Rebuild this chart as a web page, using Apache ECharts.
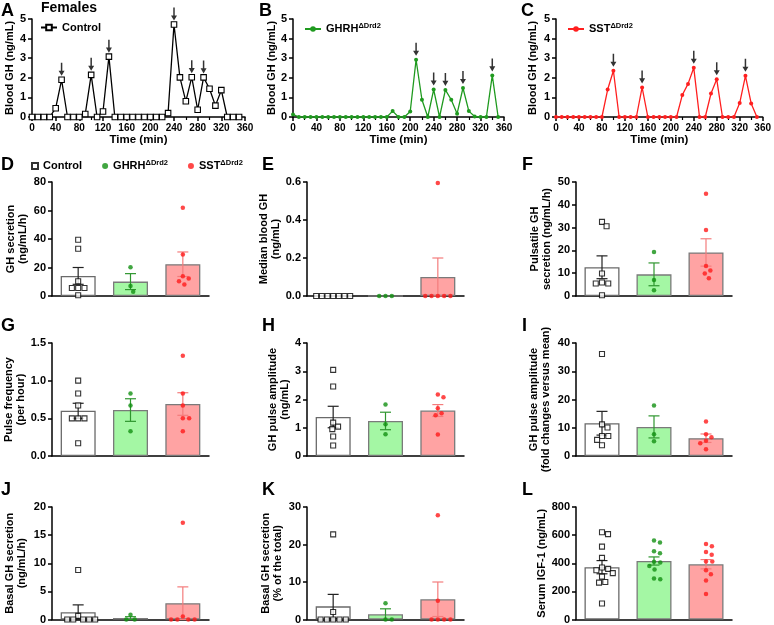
<!DOCTYPE html>
<html>
<head>
<meta charset="utf-8">
<title>Females - GH secretion</title>
<script src="https://cdn.jsdelivr.net/npm/echarts@6.0.0/dist/echarts.min.js"></script>
<style>
  html, body { margin: 0; padding: 0; background: #fff; }
  #chart { width: 774px; height: 625px; }
</style>
</head>
<body>
<div id="chart"></div>
<script>
// ---- A-C: blood GH sampled every 10 min ----
var times = [0, 10, 20, 30, 40, 50, 60, 70, 80, 90, 100, 110, 120, 130, 140, 150, 160, 170,
             180, 190, 200, 210, 220, 230, 240, 250, 260, 270, 280, 290, 300, 310, 320, 330, 340, 350];
var ctlGH  = [0, 0, 0, 0, 0.45, 1.9, 0, 0, 0, 0.15, 2.15, 0, 0.28, 3.08, 0, 0, 0, 0,
              0, 0, 0, 0, 0, 0.2, 4.72, 2.02, 0.8, 2.03, 0.37, 2.02, 1.44, 0.58, 1.37, 0, 0, 0];
var ghrhGH = [0.13, 0, 0, 0, 0, 0, 0, 0, 0, 0, 0, 0, 0, 0, 0, 0, 0, 0.3,
              0, 0, 0.28, 2.92, 0.88, 0, 1.4, 0, 1.38, 0.88, 0.17, 1.48, 0.3, 0.03, 0, 0, 2.12, 0];
var sstGH  = [0, 0, 0, 0, 0, 0, 0, 0, 0, 1.4, 2.36, 0, 0, 0, 0, 1.51, 0, 0,
              0, 0, 0, 0, 1.12, 1.69, 2.51, 0, 0, 1.2, 1.92, 0, 0, 0, 0.71, 2.1, 0.69, 0];
// pulses flagged with an arrow (min)
var ctlPeaks  = [50, 100, 130, 240, 270, 290];
var ghrhPeaks = [210, 240, 260, 290, 340];
var sstPeaks  = [100, 150, 240, 280, 330];

// ---- D-L: individual mice, bar = mean, whisker = SEM (order: Control, GHRH, SST) ----
var secCtl = [39.5, 33.2, 10.3, 5.6, 5.6, 5.6, 0.5];
var secGhrh = [20.2, 7.0, 3.0];
var secSst = [62.0, 29.2, 13.8, 12.2, 10.3, 8.0];
var secMean = [14.1, 10.1, 22.3];
var secSem = [5.9, 5.6, 8.6];

var medCtl = [0, 0, 0, 0, 0, 0, 0];
var medGhrh = [0, 0, 0];
var medSst = [0.595, 0, 0, 0, 0, 0];
var medMean = [0, 0, 0.1];
var medSem = [0, 0, 0.1];

var pulsCtl = [32.5, 30.6, 9.9, 5.9, 5.5, 5.5, 0.3];
var pulsGhrh = [19.3, 7.0, 2.5];
var pulsSst = [44.8, 29.0, 13.2, 11.2, 9.9, 7.8];
var pulsMean = [12.6, 9.5, 19.1];
var pulsSem = [5.0, 5.0, 6.0];

var freqCtl = [1.0, 0.83, 0.67, 0.5, 0.5, 0.5, 0.17];
var freqGhrh = [0.83, 0.67, 0.33];
var freqSst = [1.33, 0.83, 0.67, 0.5, 0.5, 0.33];
var freqMean = [0.6, 0.61, 0.69];
var freqSem = [0.1, 0.15, 0.15];

var ampCtl = [3.05, 2.46, 1.18, 1.04, 0.95, 0.69, 0.37];
var ampGhrh = [1.82, 1.12, 0.77];
var ampSst = [2.18, 2.08, 1.69, 1.51, 1.44, 0.76];
var ampMean = [1.38, 1.24, 1.61];
var ampSem = [0.38, 0.31, 0.21];

var foldCtl = [36.1, 11.2, 10.1, 7.1, 7.1, 5.7, 3.8];
var foldGhrh = [17.9, 7.7, 5.2];
var foldSst = [12.2, 7.7, 6.6, 5.4, 4.5, 2.4];
var foldMean = [11.6, 10.3, 6.3];
var foldSem = [4.2, 3.9, 1.5];

var basCtl = [8.8, 0.65, 0, 0, 0, 0, 0];
var basGhrh = [0.83, 0, 0];
var basSst = [17.2, 0.55, 0, 0, 0, 0];
var basMean = [1.3, 0.25, 2.9];
var basSem = [1.3, 0.25, 2.9];

var pctCtl = [22.7, 2.0, 0, 0, 0, 0, 0];
var pctGhrh = [4.35, 0, 0];
var pctSst = [27.8, 5.0, 0, 0, 0, 0];
var pctMean = [3.5, 1.4, 5.4];
var pctSem = [3.2, 1.45, 4.6];

var igfCtl = [620, 607, 518, 438, 370, 360, 350, 330, 305, 267, 262, 114];
var igfGhrh = [561, 547, 485, 471, 410, 405, 380, 355, 291, 286];
var igfSst = [537, 521, 480, 461, 412, 412, 350, 322, 277, 182];
var igfMean = [372, 416, 393];
var igfSem = [47, 29, 33];

// ---- styling ----
var FONT = '"Liberation Sans", Arial, Helvetica, sans-serif';
var groupNames = ['Control', 'GHRH', 'SST'];
var groupFill = ['#ffffff', '#a4f7a4', '#ffa3a3'];
var groupBorder = ['#6a6a6a', '#7a7a7a', '#7a7a7a'];
var errColor = ['#222222', '#2f962f', '#f47c7c'];
var dotColor = ['#000000', '#129012', '#ff1a1a'];

var rich = {
  n: { fontFamily: FONT, fontSize: 11, fontWeight: 'bold', color: '#000', lineHeight: 14 },
  s: { fontFamily: FONT, fontSize: 7.5, fontWeight: 'bold', color: '#000', verticalAlign: 'top', lineHeight: 9 }
};
var labelFor = { tsCtl: 'Control', tsGhrh: 'GHRH', tsSst: 'SST', Control: 'Control', GHRH: 'GHRH', SST: 'SST' };
function legendText(name) {
  var t = labelFor[name];
  return t === 'Control' ? '{n|Control}' : '{n|' + t + '}{s|ΔDrd2}';
}

var grids = [], xAxes = [], yAxes = [], series = [];

function axisLineStyle() { return { show: true, lineStyle: { color: '#000', width: 1.5 } }; }

// ---- time course panels ----
var tsPanels = [
  { id: 'tsCtl', data: ctlGH, peaks: ctlPeaks, color: '#000', symbol: 'rect', size: 5.5, hollow: true,
    grid: { left: 32, top: 19, width: 213, height: 98 }, nameGap: 17 },
  { id: 'tsGhrh', data: ghrhGH, peaks: ghrhPeaks, color: '#1f9a1f', symbol: 'circle', size: 4,
    grid: { left: 293, top: 19, width: 211, height: 98 }, nameGap: 16 },
  { id: 'tsSst', data: sstGH, peaks: sstPeaks, color: '#ff1f1f', symbol: 'circle', size: 4,
    grid: { left: 556, top: 19, width: 209, height: 98 }, nameGap: 18 }
];

tsPanels.forEach(function (p) {
  var gi = grids.length;
  grids.push(p.grid);
  xAxes.push({
    type: 'value', gridIndex: gi, min: 0, max: 360, interval: 40,
    axisLine: axisLineStyle(),
    axisTick: { show: true, length: 4, lineStyle: { width: 1.5, color: '#000' } },
    minorTick: { show: true, splitNumber: 2, length: 3, lineStyle: { width: 1.2, color: '#000' } },
    splitLine: { show: false },
    axisLabel: { fontFamily: FONT, fontSize: 10, fontWeight: 'bold', color: '#000', margin: 6 },
    name: 'Time (min)', nameLocation: 'middle', nameGap: 16,
    nameTextStyle: { fontFamily: FONT, fontSize: 11.5, fontWeight: 'bold', color: '#000', verticalAlign: 'top' }
  });
  yAxes.push({
    type: 'value', gridIndex: gi, min: 0, max: 5, interval: 1,
    axisLine: axisLineStyle(),
    axisTick: { show: true, length: 4, lineStyle: { width: 1.5, color: '#000' } },
    splitLine: { show: false },
    axisLabel: { fontFamily: FONT, fontSize: 11, fontWeight: 'bold', color: '#000', margin: 6 },
    name: 'Blood GH (ng/mL)', nameLocation: 'middle', nameGap: p.nameGap,
    nameTextStyle: { fontFamily: FONT, fontSize: 11, fontWeight: 'bold', color: '#000' }
  });
  series.push({
    name: p.id, type: 'line', xAxisIndex: gi, yAxisIndex: gi,
    data: times.map(function (t, i) { return [t, p.data[i]]; }),
    symbol: p.symbol, symbolSize: p.size, showSymbol: true, showAllSymbol: true,
    lineStyle: { color: p.color, width: 1.3 },
    itemStyle: p.hollow ? { color: '#fff', borderColor: p.color, borderWidth: 1.1 } : { color: p.color },
    z: 3, animation: false
  });
  series.push({
    name: p.id + 'Arrows', type: 'scatter', xAxisIndex: gi, yAxisIndex: gi, silent: true,
    data: p.peaks.map(function (t) { return [t, p.data[times.indexOf(t)]]; }),
    symbol: 'path://M3,0 L5,0 L5,8.5 L8,8.5 L4,14 L0,8.5 L3,8.5 Z',
    symbolSize: [6, 13], symbolOffset: [0, -10.5], clip: false,
    itemStyle: { color: '#000' }, z: 5, animation: false
  });
});

// ---- bar + dot panels ----
var barPanels = [
  { pts: [secCtl, secGhrh, secSst], mean: secMean, sem: secSem, max: 80, step: 20,
    name: 'GH secretion\n(ng/mL/h)', gap: 23, grid: { left: 52, top: 182, width: 157, height: 114 } },
  { pts: [medCtl, medGhrh, medSst], mean: medMean, sem: medSem, max: 0.6, step: 0.2, dec: 1,
    name: 'Median blood GH\n(ng/mL)', gap: 24, grid: { left: 307, top: 182, width: 157, height: 114 } },
  { pts: [pulsCtl, pulsGhrh, pulsSst], mean: pulsMean, sem: pulsSem, max: 50, step: 10,
    name: 'Pulsatile GH\nsecretion (ng/mL/h)', gap: 23, grid: { left: 576, top: 182, width: 156, height: 114 } },
  { pts: [freqCtl, freqGhrh, freqSst], mean: freqMean, sem: freqSem, max: 1.5, step: 0.5, dec: 1,
    name: 'Pulse frequency\n(per hour)', gap: 24, grid: { left: 52, top: 343, width: 157, height: 113 } },
  { pts: [ampCtl, ampGhrh, ampSst], mean: ampMean, sem: ampSem, max: 4, step: 1,
    name: 'GH pulse amplitude\n(ng/mL)', gap: 15, grid: { left: 307, top: 343, width: 157, height: 113 } },
  { pts: [foldCtl, foldGhrh, foldSst], mean: foldMean, sem: foldSem, max: 40, step: 10,
    name: 'GH pulse amplitude\n(fold changes versus mean)', gap: 24, grid: { left: 576, top: 343, width: 156, height: 113 } },
  { pts: [basCtl, basGhrh, basSst], mean: basMean, sem: basSem, max: 20, step: 5,
    name: 'Basal GH secretion\n(ng/mL/h)', gap: 24, grid: { left: 52, top: 507, width: 157, height: 113 } },
  { pts: [pctCtl, pctGhrh, pctSst], mean: pctMean, sem: pctSem, max: 30, step: 10,
    name: 'Basal GH secretion\n(% of the total)', gap: 23, grid: { left: 307, top: 507, width: 157, height: 113 } },
  { pts: [igfCtl, igfGhrh, igfSst], mean: igfMean, sem: igfSem, max: 800, step: 200,
    name: 'Serum IGF-1 (ng/mL)', gap: 28, grid: { left: 576, top: 507, width: 156, height: 113 } }
];

// GraphPad-like scatter: push colliding dots sideways
function swarm(vals, pxPerUnit) {
  var d = 6.3;
  var order = vals.map(function (v, i) { return i; }).sort(function (a, b) { return vals[b] - vals[a]; });
  var placed = [], dx = [];
  order.forEach(function (i) {
    var y = vals[i] * pxPerUnit;
    var cands = [0];
    placed.forEach(function (p) {
      var dy = Math.abs(p.y - y);
      if (dy < d) { var s = Math.sqrt(d * d - dy * dy); cands.push(p.x + s, p.x - s); }
    });
    cands.sort(function (a, b) { return (Math.abs(a) - Math.abs(b)) || (b - a); });
    var best = 0;
    for (var k = 0; k < cands.length; k++) {
      var c = cands[k];
      var ok = placed.every(function (p) { return (p.x - c) * (p.x - c) + (p.y - y) * (p.y - y) >= d * d - 0.01; });
      if (ok) { best = c; break; }
    }
    placed.push({ x: best, y: y });
    dx[i] = best;
  });
  var m = 0;
  dx.forEach(function (v) { m = Math.max(m, Math.abs(v)); });
  if (m > 17) dx = dx.map(function (v) { return v * 17 / m; });
  return dx;
}

barPanels.forEach(function (p) {
  var gi = grids.length;
  grids.push(p.grid);
  xAxes.push({
    type: 'category', gridIndex: gi, data: groupNames,
    axisLine: axisLineStyle(), axisTick: { show: false }, axisLabel: { show: false }, splitLine: { show: false }
  });
  yAxes.push({
    type: 'value', gridIndex: gi, min: 0, max: p.max, interval: p.step,
    axisLine: axisLineStyle(),
    axisTick: { show: true, length: 4, lineStyle: { width: 1.5, color: '#000' } },
    splitLine: { show: false },
    axisLabel: {
      fontFamily: FONT, fontSize: 11, fontWeight: 'bold', color: '#000', margin: 6,
      formatter: function (v) { return p.dec ? v.toFixed(p.dec) : String(v); }
    },
    name: p.name, nameLocation: 'middle', nameGap: p.gap,
    nameTextStyle: { fontFamily: FONT, fontSize: 11, fontWeight: 'bold', color: '#000', lineHeight: 12 }
  });
  series.push({
    type: 'bar', xAxisIndex: gi, yAxisIndex: gi, barWidth: 35, silent: true,
    data: p.mean.map(function (v, i) {
      return { value: v, itemStyle: { color: groupFill[i], borderColor: groupBorder[i], borderWidth: 1.3 } };
    }),
    z: 2, animation: false
  });
  series.push({
    type: 'custom', xAxisIndex: gi, yAxisIndex: gi, silent: true,
    data: p.mean.map(function (v, i) { return [i, v, p.sem[i]]; }),
    renderItem: function (params, api) {
      if (api.value(2) <= 0) return null;
      var hi = api.coord([api.value(0), api.value(1) + api.value(2)]);
      var lo = api.coord([api.value(0), api.value(1) - api.value(2)]);
      var c = errColor[params.dataIndex], w = 5.5;
      var st = { stroke: c, lineWidth: 1.2 };
      return { type: 'group', children: [
        { type: 'line', shape: { x1: hi[0], y1: hi[1], x2: lo[0], y2: lo[1] }, style: st },
        { type: 'line', shape: { x1: hi[0] - w, y1: hi[1], x2: hi[0] + w, y2: hi[1] }, style: st },
        { type: 'line', shape: { x1: lo[0] - w, y1: lo[1], x2: lo[0] + w, y2: lo[1] }, style: st }
      ] };
    },
    z: 3, animation: false
  });
  var pxPerUnit = p.grid.height / p.max;
  p.pts.forEach(function (vals, g) {
    var dx = swarm(vals, pxPerUnit);
    series.push({
      name: groupNames[g], type: 'scatter', xAxisIndex: gi, yAxisIndex: gi,
      symbol: g === 0 ? 'rect' : 'circle', symbolSize: g === 0 ? 5 : 4.5,
      itemStyle: g === 0 ? { color: '#fff', borderColor: '#000', borderWidth: 1.1 } : { color: dotColor[g] },
      data: vals.map(function (v, k) { return { value: [g, v], symbolOffset: [dx[k], 0] }; }),
      clip: false, z: 4, animation: false
    });
  });
});

var letters = [
  ['A', 1, 2], ['B', 259, 2], ['C', 521, 2],
  ['D', 1, 156], ['E', 262, 156], ['F', 522, 156],
  ['G', 1, 317], ['H', 262, 317], ['I', 522, 317],
  ['J', 1, 481], ['K', 262, 481], ['L', 522, 481]
];
var graphics = letters.map(function (l) {
  return { type: 'text', left: l[1], top: l[2], silent: true,
           style: { text: l[0], fill: '#000', font: 'bold 18px ' + FONT } };
});
graphics.push({ type: 'text', left: 41, top: 1, silent: true,
                style: { text: 'Females', fill: '#000', font: 'bold 14px ' + FONT } });

function legendBase(extra) {
  return Object.assign({
    orient: 'horizontal', padding: 0, selectedMode: false,
    formatter: legendText,
    textStyle: { fontFamily: FONT, fontSize: 11, fontWeight: 'bold', color: '#000', rich: rich }
  }, extra);
}

var option = {
  animation: false,
  backgroundColor: '#fff',
  textStyle: { fontFamily: FONT },
  grid: grids,
  xAxis: xAxes,
  yAxis: yAxes,
  legend: [
    legendBase({ data: ['tsCtl'], left: 40, top: 22, itemWidth: 16, itemHeight: 7 }),
    legendBase({ data: ['tsGhrh'], left: 304, top: 22, itemWidth: 16, itemHeight: 7 }),
    legendBase({ data: ['tsSst'], left: 567, top: 22, itemWidth: 16, itemHeight: 7 }),
    legendBase({ data: groupNames, left: 31, top: 159, itemWidth: 6, itemHeight: 6, itemGap: 20 })
  ],
  graphic: graphics,
  series: series
};

var chart = echarts.init(document.getElementById('chart'));
chart.setOption(option);
</script>
</body>
</html>
